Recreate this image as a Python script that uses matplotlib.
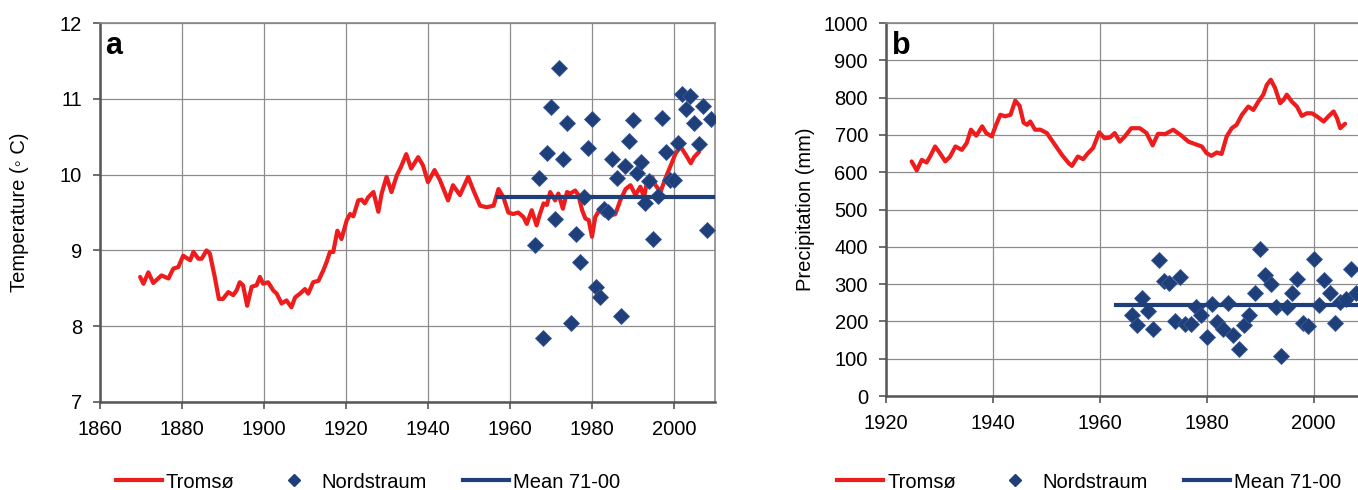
import matplotlib
matplotlib.use("Agg")
import matplotlib.pyplot as plt
from matplotlib.lines import Line2D

plt.rcParams["font.family"] = ["Liberation Sans", "DejaVu Sans"]

# panel a: temperature
tromso_t_year = [1869.8, 1870.6, 1871.8, 1873, 1875, 1876.7, 1877.9, 1879.1, 1880.3, 1882,
                 1882.8, 1884, 1884.8, 1886, 1886.8, 1888, 1889, 1890, 1891.3, 1892.5,
                 1893.3, 1894.1, 1894.9, 1895.9, 1897, 1898.2, 1899, 1899.8, 1901, 1902.3,
                 1903.1, 1904.3, 1905.5, 1906.7, 1907.6, 1908.8, 1910, 1910.8, 1912, 1913.3,
                 1914.5, 1915.3, 1916.1, 1916.9, 1917.9, 1918.9, 1920.2, 1921, 1921.8, 1923,
                 1923.8, 1924.6, 1925.4, 1926.7, 1927.9, 1928.7, 1929.9, 1931.1, 1932.4, 1933.4,
                 1934.7, 1935.9, 1937.6, 1938.8, 1940, 1941.6, 1942.9, 1944.9, 1946.1, 1947.8,
                 1949.8, 1951.1, 1952.7, 1954.3, 1956, 1957.2, 1958.4, 1959.6, 1960.8, 1962,
                 1963.3, 1964.1, 1965.3, 1966.5, 1967.3, 1968.2, 1969, 1969.8, 1971, 1971.8,
                 1972.9, 1973.9, 1974.7, 1975.9, 1976.7, 1977.6, 1978.4, 1979.2, 1980, 1980.8,
                 1982, 1983.3, 1984.5, 1985.7, 1986.9, 1988.2, 1989.4, 1990.6, 1991.8, 1992.7,
                 1993.5, 1994.7, 1995.5, 1996.7, 1997.9, 1999.2, 2000.4, 2001.6, 2002.9, 2004.1,
                 2004.9, 2006.1]
tromso_t = [8.65, 8.56, 8.71, 8.57, 8.67, 8.63, 8.76, 8.78, 8.93, 8.87,
            8.98, 8.89, 8.89, 9.0, 8.96, 8.65, 8.36, 8.36, 8.45, 8.41,
            8.47, 8.58, 8.54, 8.27, 8.52, 8.54, 8.65, 8.56, 8.58, 8.47,
            8.43, 8.30, 8.34, 8.25, 8.38, 8.43, 8.49, 8.43, 8.58, 8.60,
            8.74, 8.85, 8.98, 8.98, 9.26, 9.15, 9.40, 9.48, 9.45, 9.66,
            9.67, 9.62, 9.70, 9.77, 9.51, 9.75, 9.97, 9.77, 9.99, 10.10,
            10.27, 10.08, 10.23, 10.12, 9.90, 10.06, 9.93, 9.66, 9.86, 9.73,
            9.97, 9.79, 9.59, 9.57, 9.59, 9.81, 9.70, 9.50, 9.48, 9.50,
            9.44, 9.35, 9.53, 9.33, 9.48, 9.62, 9.60, 9.77, 9.66, 9.75,
            9.55, 9.77, 9.75, 9.79, 9.73, 9.53, 9.42, 9.40, 9.18, 9.44,
            9.55, 9.53, 9.46, 9.48, 9.66, 9.81, 9.86, 9.73, 9.84, 9.70,
            9.93, 9.97, 9.86, 9.77, 9.95, 10.12, 10.28, 10.37, 10.26, 10.15,
            10.23, 10.30]

nord_t_year = [1966, 1967, 1968, 1969, 1970, 1971, 1972, 1973, 1974, 1975,
               1976, 1977, 1978, 1979, 1980, 1981, 1982, 1983, 1984,
               1985, 1986, 1987, 1988, 1989, 1990, 1991, 1992, 1993, 1994,
               1995, 1996, 1997, 1998, 1999, 2000, 2001, 2002, 2003, 2004,
               2005, 2006, 2007, 2008, 2009]
nord_t = [9.07, 9.95, 7.85, 10.29, 10.89, 9.42, 11.41, 10.20, 10.68, 8.04,
          9.22, 8.85, 9.70, 10.35, 10.73, 8.52, 8.39, 9.54, 9.51,
          10.21, 9.95, 8.14, 10.11, 10.44, 10.72, 10.02, 10.17, 9.63, 9.91,
          9.15, 9.72, 10.75, 10.30, 9.93, 9.93, 10.42, 11.07, 10.86, 11.04,
          10.68, 10.40, 10.90, 9.27, 10.73]
mean_t_span = [1957, 2010]
mean_t = 9.70

# panel b: precipitation
tromso_p_year = [1924.8, 1925.75, 1926.7, 1927.6, 1928.25, 1929.2, 1930.1, 1931.1, 1932, 1933,
                 1934.2, 1935.1, 1935.9, 1936.9, 1938, 1938.75, 1939.8, 1940.6, 1941.4, 1942.3,
                 1943.3, 1944.2, 1945, 1945.75, 1946.4, 1947, 1947.9, 1948.9, 1950.1, 1951.4,
                 1952.9, 1954.2, 1954.8, 1955.9, 1956.9, 1957.8, 1958.75, 1959.9, 1960.9, 1961.9,
                 1962.8, 1963.75, 1964.7, 1965.9, 1967.5, 1968.75, 1969.9, 1970.9, 1972.2, 1973.75,
                 1975.3, 1976.6, 1978.1, 1979.1, 1980, 1980.9, 1981.9, 1982.8, 1983.75, 1984.7,
                 1985.6, 1986.6, 1987.8, 1988.75, 1989.7, 1990.6, 1991.25, 1992, 1992.8, 1993.75,
                 1994.4, 1995, 1995.9, 1996.9, 1997.8, 1998.75, 1999.7, 2000.6, 2001.9, 2002.8,
                 2003.75, 2004.4, 2005, 2005.9]
tromso_p = [629, 605, 633, 626, 642, 669, 651, 629, 642, 669,
            660, 678, 714, 698, 723, 705, 696, 727, 754, 750,
            754, 792, 778, 733, 727, 736, 714, 714, 705, 678,
            647, 624, 617, 642, 635, 651, 665, 707, 691, 693,
            705, 682, 696, 718, 718, 705, 672, 703, 702, 714,
            698, 682, 674, 669, 651, 644, 653, 649, 696, 718,
            727, 754, 776, 767, 790, 808, 834, 848, 826, 785,
            794, 808, 790, 776, 751, 758, 758, 750, 736, 750,
            763, 745, 718, 730]

nord_p_year = [1966, 1967, 1968, 1969, 1970, 1971, 1972, 1973, 1974, 1975,
               1976, 1977, 1978, 1979, 1980, 1981, 1982, 1983, 1984, 1985,
               1986, 1987, 1988, 1989, 1990, 1991, 1992, 1993, 1994, 1995,
               1996, 1997, 1998, 1999, 2000, 2001, 2002, 2003, 2004, 2005,
               2006, 2007, 2008]
nord_p = [217, 191, 262, 228, 179, 365, 309, 304, 201, 320,
          192, 192, 240, 217, 159, 247, 199, 179, 250, 164,
          126, 191, 217, 277, 394, 325, 300, 238, 107, 240,
          275, 313, 197, 188, 368, 244, 311, 277, 197, 253,
          259, 340, 275]
mean_p_span = [1963, 2010]
mean_p = 243

red = "#ee1c1c"
navy = "#1f3f7a"
grid_c = "#8c8c8c"

fig = plt.figure(figsize=(13.58, 4.9), dpi=100)
ax1 = fig.add_axes([0.0736, 0.1796, 0.4529, 0.7734])
ax2 = fig.add_axes([0.6524, 0.1918, 0.3542, 0.7612])


def style(ax):
    ax.grid(True, color=grid_c, lw=0.9)
    ax.set_axisbelow(True)
    for s in ax.spines.values():
        s.set_color("#888888")
        s.set_linewidth(1.2)
    ax.spines["left"].set_color("#555555")
    ax.spines["bottom"].set_color("#555555")
    ax.spines["left"].set_linewidth(1.8)
    ax.spines["bottom"].set_linewidth(1.8)
    ax.tick_params(labelsize=14.5, direction="out", length=5, color="#555555",
                   width=1.2, pad=8)


# panel a
ax1.plot(tromso_t_year, tromso_t, color=red, lw=3, zorder=3,
         solid_joinstyle="round", solid_capstyle="round")
ax1.plot(nord_t_year, nord_t, ls="none", marker="D", ms=8, color=navy,
         markeredgecolor="#3a5a94", markeredgewidth=0.6, zorder=4)
ax1.plot(mean_t_span, [mean_t, mean_t], color=navy, lw=3, zorder=4)
ax1.set_xlim(1860, 2010)
ax1.set_ylim(7, 12)
ax1.set_xticks(range(1860, 2001, 20))
ax1.set_yticks(range(7, 13))
ax1.set_ylabel("Temperature (◦ C)", fontsize=14.5, labelpad=22)
style(ax1)
ax1.text(0.008, 0.978, "a", transform=ax1.transAxes, fontsize=22,
         fontweight="bold", va="top", ha="left")

# panel b
ax2.plot(tromso_p_year, tromso_p, color=red, lw=3, zorder=3,
         solid_joinstyle="round", solid_capstyle="round")
ax2.plot(nord_p_year, nord_p, ls="none", marker="D", ms=8, color=navy,
         markeredgecolor="#3a5a94", markeredgewidth=0.6, zorder=4)
ax2.plot(mean_p_span, [mean_p, mean_p], color=navy, lw=3, zorder=4)
ax2.set_xlim(1920, 2010)
ax2.set_ylim(0, 1000)
ax2.set_xticks(range(1920, 2001, 20))
ax2.set_yticks(range(0, 1001, 100))
ax2.set_ylabel("Precipitation (mm)", fontsize=14.5, labelpad=6)
style(ax2)
ax2.text(0.012, 0.978, "b", transform=ax2.transAxes, fontsize=22,
         fontweight="bold", va="top", ha="left")

handles = [
    Line2D([], [], color=red, lw=3),
    Line2D([], [], ls="none", marker="D", ms=6, color=navy),
    Line2D([], [], color=navy, lw=3),
]
labels = ["Tromsø", "Nordstraum", "Mean 71-00"]
for cx in (0.271, 0.802):
    fig.legend(handles, labels, loc="center", bbox_to_anchor=(cx, 0.0163),
               ncol=3, frameon=False, fontsize=14.5, handlelength=2.3,
               handletextpad=0.2, columnspacing=1.8, borderpad=0.2)

fig.savefig("out.png", dpi=100)
